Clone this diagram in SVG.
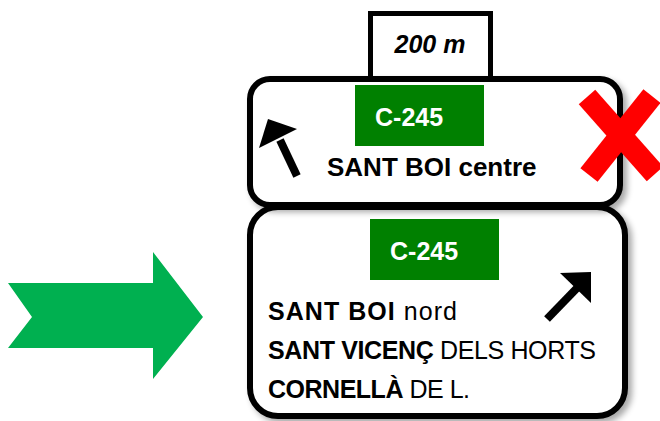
<svg xmlns="http://www.w3.org/2000/svg" width="660" height="421" viewBox="0 0 660 421">
<defs>
<filter id="sh" x="-10%" y="-10%" width="125%" height="130%">
<feGaussianBlur in="SourceAlpha" stdDeviation="3"/>
<feOffset dx="4" dy="4" result="b"/>
<feComponentTransfer><feFuncA type="linear" slope="0.35"/></feComponentTransfer>
<feMerge><feMergeNode/><feMergeNode in="SourceGraphic"/></feMerge>
</filter>
</defs>
<style>
.sign{fill:#fff;stroke:#000;stroke-width:6}
.road{fill:#008000}
.rt{font-family:"Liberation Sans",Arial,sans-serif;font-weight:bold;font-size:25px;fill:#fff}
.t{font-family:"Liberation Sans",Arial,sans-serif;font-size:25px;fill:#000}
.b{font-weight:bold}
</style>
<g id="direction-arrow">
<polygon points="8,283 153,283 153,252 203,317 153,379 153,348 8,348 32,317" fill="#00B050"/>
</g>
<g id="distance-plate">
<rect x="370.5" y="13.5" width="120" height="66" fill="#fff" stroke="#000" stroke-width="5"/>
<text x="430" y="53" text-anchor="middle" class="t b" font-style="italic">200 m</text>
</g>
<g id="lower-sign">
<rect x="250" y="207" width="375" height="209" rx="28" class="sign" filter="url(#sh)"/>
<rect x="370" y="219" width="129" height="61" class="road"/>
<text x="390" y="260" class="rt">C-245</text>
<text x="268" y="320" class="t" textLength="189"><tspan class="b">SANT BOI</tspan> nord</text>
<text x="268" y="359" class="t" textLength="328"><tspan class="b">SANT VICENÇ</tspan> DELS HORTS</text>
<text x="268" y="398" class="t" textLength="202"><tspan class="b">CORNELLÀ</tspan> DE L.</text>
<g id="arrow-right">
<line x1="547" y1="319" x2="578" y2="287" stroke="#000" stroke-width="8"/>
<polygon points="560,273 591,272 591,303" fill="#000"/>
</g>
</g>
<g id="upper-sign">
<rect x="250" y="79" width="370" height="126" rx="20" class="sign" filter="url(#sh)"/>
<rect x="355" y="85" width="129" height="61" class="road"/>
<text x="375" y="126" class="rt">C-245</text>
<text x="327" y="176" class="t b" style="font-size:26px">SANT BOI centre</text>
<g id="arrow-left">
<line x1="297" y1="176" x2="280" y2="140" stroke="#000" stroke-width="8"/>
<polygon points="268,119 297,129 259,148" fill="#000"/>
</g>
</g>
<g id="cross">
<line x1="587" y1="97" x2="655" y2="174" stroke="#f00" stroke-width="22"/>
<line x1="652" y1="96" x2="589" y2="175" stroke="#f00" stroke-width="22"/>
</g>
</svg>
